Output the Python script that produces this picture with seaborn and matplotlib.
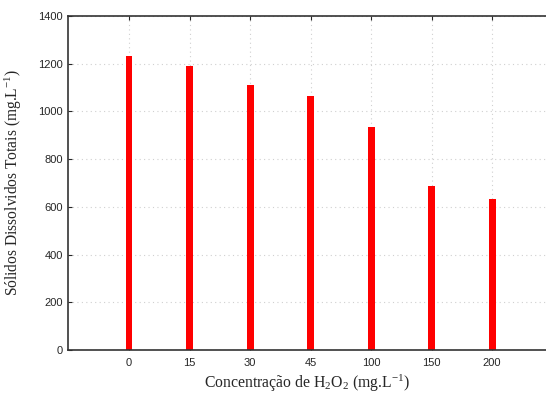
import matplotlib
matplotlib.use("Agg")
import matplotlib.pyplot as plt
import seaborn as sns
import pandas as pd

categories = ["0", "15", "30", "45", "100", "150", "200"]
values = [1232, 1190, 1110, 1065, 935, 687, 633]

sns.set_style("white")
plt.rcParams["mathtext.fontset"] = "custom"
plt.rcParams["mathtext.rm"] = "Liberation Serif"
plt.rcParams["mathtext.it"] = "Liberation Serif:italic"
plt.rcParams["mathtext.default"] = "rm"
plt.rcParams["axes.unicode_minus"] = False
df = pd.DataFrame({"conc": categories, "sdt": values})

fig = plt.figure(figsize=(5.46, 3.95), dpi=100)
ax = fig.add_axes([68/546, 1-350/395, (546-68)/546, (350-16)/395])
sns.barplot(data=df, x="conc", y="sdt", color="#ff0000", width=0.115,
            saturation=1, ax=ax, edgecolor="none")
ax.set_xlim(-1.008, 6.89)
ax.set_ylim(0, 1400)
ax.set_yticks(range(0, 1401, 200))
ax.grid(True, linestyle=(0, (1, 3)), color="#d0d0d0", linewidth=0.8)
ax.set_axisbelow(True)
for s in ["left", "bottom", "top"]:
    ax.spines[s].set_visible(True)
    ax.spines[s].set_color("#333333")
    ax.spines[s].set_linewidth(1.2)
ax.spines["right"].set_visible(False)
ax.tick_params(axis="both", direction="in", length=3, width=0.8, labelsize=8,
               top=True, left=True, bottom=True)
for lab in ax.get_xticklabels() + ax.get_yticklabels():
    lab.set_fontfamily("Liberation Sans")
ax.xaxis.set_tick_params(pad=6)
ax.set_xlabel(r"Concentração de H$_2$O$_2$ (mg.L$^{\mathregular{-1}}$)", fontfamily="Liberation Serif",
              fontsize=11.3, labelpad=3)
ax.set_ylabel(r"Sólidos Dissolvidos Totais (mg.L$^{\mathregular{-1}}$)", fontfamily="Liberation Serif",
              fontsize=11.2, labelpad=10)
fig.savefig("out.png", dpi=100)
